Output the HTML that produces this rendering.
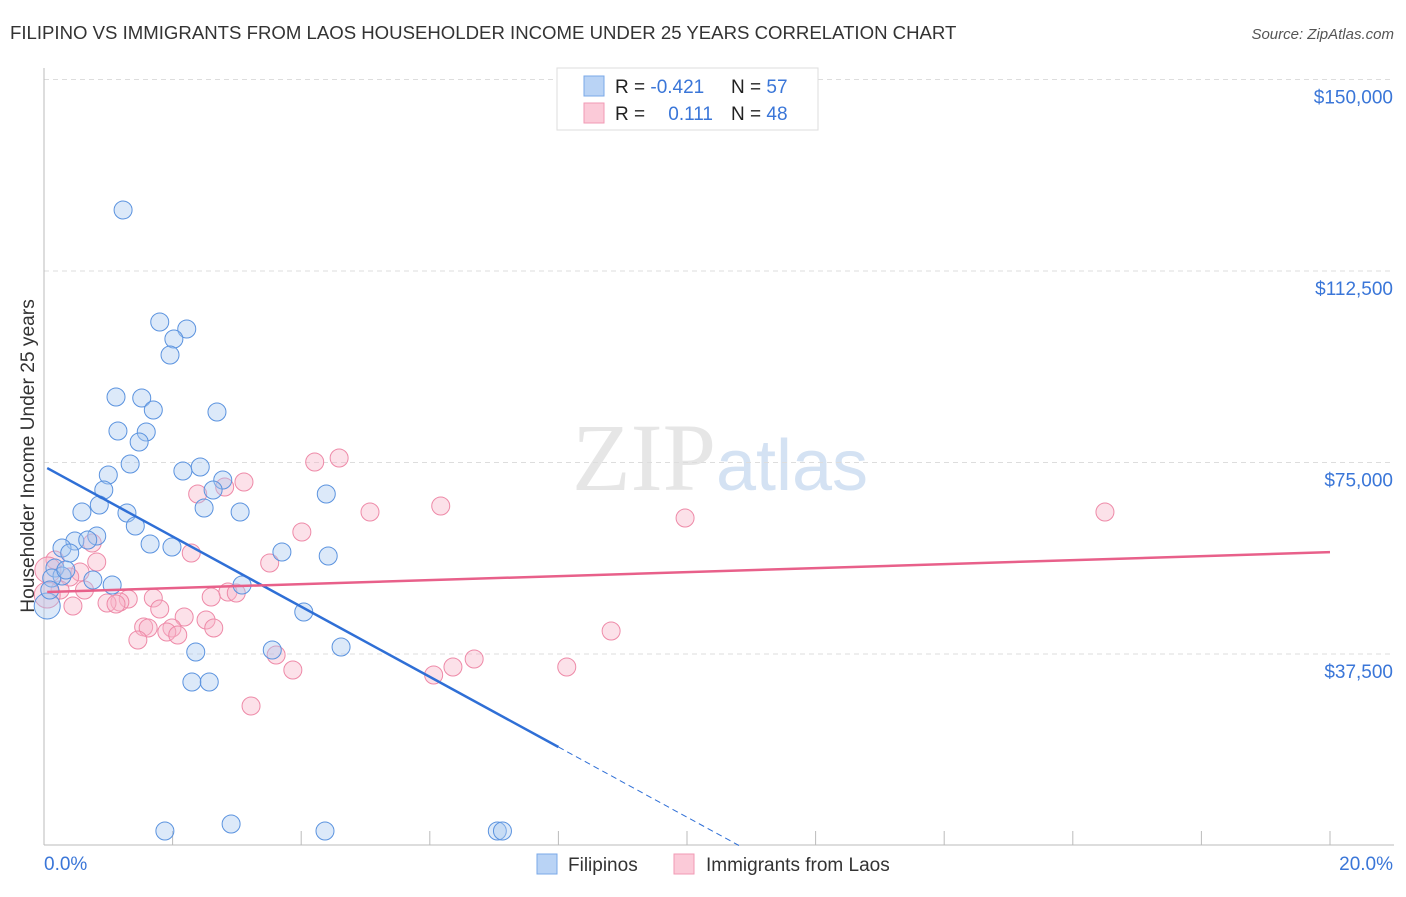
<!DOCTYPE html>
<html><head><meta charset="utf-8"><style>
body{margin:0;background:#fff;font-family:"Liberation Sans",sans-serif;}
svg text{font-family:"Liberation Sans",sans-serif;}
</style></head><body>
<svg id="chart" width="1406" height="892">
<text x="10" y="39" font-size="18.6" fill="#333">FILIPINO VS IMMIGRANTS FROM LAOS HOUSEHOLDER INCOME UNDER 25 YEARS CORRELATION CHART</text>
<text x="1394" y="39" font-size="15" fill="#555" font-style="italic" text-anchor="end">Source: ZipAtlas.com</text>
<text x="720" y="490" font-size="96" fill="#e6e6e6" text-anchor="middle" font-family="Liberation Serif"><tspan font-family="Liberation Serif">ZIP</tspan><tspan fill="#d4e2f3" font-family="Liberation Sans" font-size="72">atlas</tspan></text>
<g id="grid"></g>
<g id="axes"></g>
<g id="marks"></g>
<text transform="translate(34,456) rotate(-90)" font-size="19.2" fill="#333" text-anchor="middle">Householder Income Under 25 years</text>
<g>
<rect x="557" y="68" width="261" height="62" fill="#fff" stroke="#ddd"/>
<rect x="584" y="76" width="20" height="20" fill="#b9d3f5" stroke="#7aa8e8"/>
<rect x="584" y="103" width="20" height="20" fill="#fbcad8" stroke="#f19ab4"/>
<text x="615" y="93" font-size="19" fill="#222">R = <tspan fill="#3a76d8">-0.421</tspan></text>
<text x="731" y="93" font-size="19" fill="#222">N = <tspan fill="#3a76d8">57</tspan></text>
<text x="615" y="120" font-size="19" fill="#222">R = </text>
<text x="713" y="120" font-size="19" fill="#3a76d8" text-anchor="end">0.111</text>
<text x="731" y="120" font-size="19" fill="#222">N = <tspan fill="#3a76d8">48</tspan></text>
</g>
<g>
<rect x="537" y="854" width="20" height="20" fill="#b9d3f5" stroke="#7aa8e8"/>
<text x="568" y="871" font-size="19" fill="#333">Filipinos</text>
<rect x="674" y="854" width="20" height="20" fill="#fbcad8" stroke="#f19ab4"/>
<text x="706" y="871" font-size="19" fill="#333">Immigrants from Laos</text>
</g>
</svg>
<script>
const yTicks=[37500,75000,112500,150000];
const yTickLabels=["$37,500","$75,000","$112,500","$150,000"];
const xTickLabels=["0.0%","20.0%"];
const blueX=[1.23,1.80,2.22,2.02,1.96,1.12,1.52,1.70,2.69,1.15,1.59,1.48,1.34,2.16,2.43,1.00,2.78,0.93,2.63,4.39,0.86,0.59,1.29,2.49,3.05,1.42,0.82,0.48,0.68,1.65,1.99,0.28,0.40,3.70,4.42,0.17,0.28,0.12,0.34,0.76,1.06,3.08,0.05,0.09,4.04,2.36,3.55,4.62,2.30,2.57,1.88,2.91,4.37,7.05,7.13];
const blueY=[124440,102510,101140,99180,96050,87830,87630,85280,84890,81170,80970,79010,74710,73330,74120,72550,71570,69610,69610,68830,66680,65310,65110,66090,65310,62560,60600,59620,59820,59040,58450,58260,57280,57470,56690,54340,52770,52380,53950,51990,51010,51010,46900,50030,45720,37890,38280,38870,32020,32020,2840,4210,2840,2840,2840];
const pinkX=[4.59,4.21,3.11,2.81,2.39,5.07,6.17,9.97,16.50,4.01,0.75,2.29,3.51,0.82,0.17,0.06,0.56,0.40,0.25,0.63,0.05,1.70,2.86,2.99,2.60,1.31,1.18,0.98,1.12,0.45,1.80,2.18,2.52,1.55,1.99,1.62,1.91,2.64,2.08,1.46,3.61,3.87,6.69,6.36,6.06,8.13,8.82,3.22];
const pinkY=[75880,75100,71180,70200,68830,65310,66480,64130,65310,61390,59230,57280,55320,55510,55910,53950,53560,52580,50030,50030,49050,48460,49640,49450,48660,48270,47680,47480,47290,46900,46310,44750,44160,42790,42590,42590,41810,42590,41220,40240,37300,34370,36520,34950,33390,34950,42000,27320];
const blueLine=[74250,-6870];
const pinkLine=[49620,391];
const NS="http://www.w3.org/2000/svg";
const X=p=>44+p/20*1286;
const Y=v=>654-(v-37500)/37500*191.5;
function mk(parent,tag,attrs){const e=document.createElementNS(NS,tag);for(const k in attrs)e.setAttribute(k,attrs[k]);document.getElementById(parent).appendChild(e);return e;}
yTicks.forEach((t,i)=>{
 let l=mk('grid','line',{x1:44,x2:1394,y1:Y(t),y2:Y(t),stroke:'#ddd','stroke-dasharray':'5,4'});
 
 
 let tx=mk('grid','text',{x:1393,y:Y(t)+24,'font-size':19,fill:'#3a76d8','text-anchor':'end'});
 tx.textContent=yTickLabels[i];
 
 
});
let ax=mk('axes','line',{x1:44,x2:44,y1:68,y2:845,stroke:'#bbb'});


let bx=mk('axes','line',{x1:44,x2:1394,y1:845,y2:845,stroke:'#bbb'});


for(let i=0;i<=10;i++){
 let t=mk('axes','line',{x1:X(i*2),x2:X(i*2),y1:831,y2:845,stroke:'#bbb'});
 
 
}
let xl0=mk('axes','text',{x:44,y:870,'font-size':19,fill:'#3a76d8'});xl0.textContent=xTickLabels[0];


let xl1=mk('axes','text',{x:1393,y:870,'font-size':19,fill:'#3a76d8','text-anchor':'end'});xl1.textContent=xTickLabels[1];


function dots(xs,ys,fill,stroke,name){xs.forEach((x,i)=>{
 const big=x<0.07;
 let c=mk('marks','circle',{cx:X(x),cy:Y(ys[i]),r:big?13:9,fill:fill,'fill-opacity':0.4,stroke:stroke,'stroke-width':1});
 
 
});}
dots(pinkX,pinkY,'#f7b3c7','#ee8aa8','point-laos');
dots(blueX,blueY,'#a8c8f0','#5b93df','point-filipinos');
const bv=p=>blueLine[0]+blueLine[1]*p;
let bl=mk('marks','line',{x1:X(0.05),y1:Y(bv(0.05)),x2:X(8),y2:Y(bv(8)),stroke:'#2f6fd6','stroke-width':2.5});


const p0=-blueLine[0]/blueLine[1];
let bd=mk('marks','line',{x1:X(8),y1:Y(bv(8)),x2:X(p0),y2:Y(0),stroke:'#2f6fd6','stroke-width':1,'stroke-dasharray':'6,4'});


const pv=p=>pinkLine[0]+pinkLine[1]*p;
let pl=mk('marks','line',{x1:X(0.05),y1:Y(pv(0.05)),x2:X(20),y2:Y(pv(20)),stroke:'#e8608a','stroke-width':2.5});


</script>
</body></html>
